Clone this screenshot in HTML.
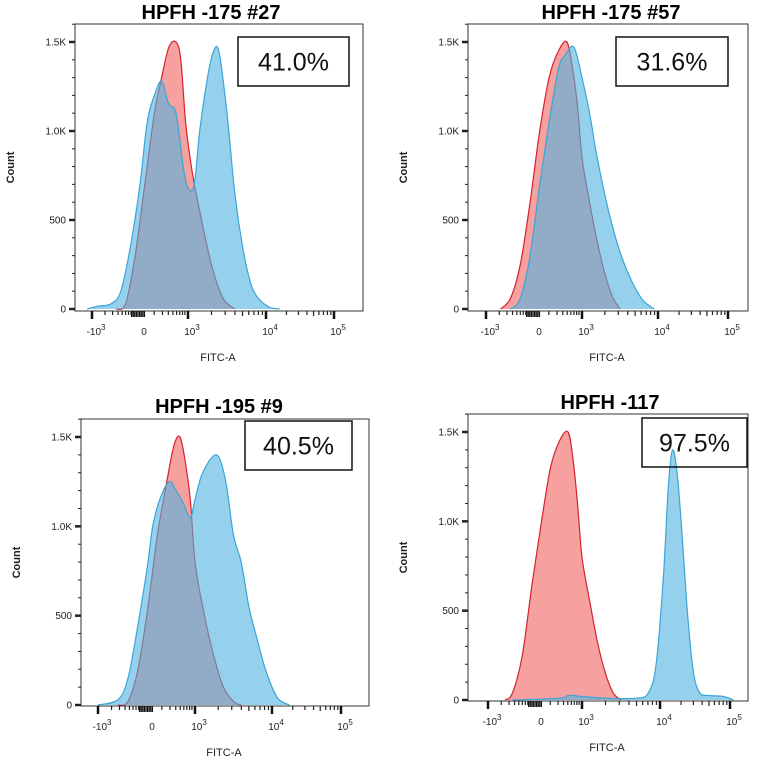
<!DOCTYPE html>
<html><head><meta charset="utf-8">
<style>
html,body{margin:0;padding:0;background:#fff;}
svg{display:block;font-family:"Liberation Sans",Arial,sans-serif;}
</style></head>
<body>
<svg id="fig" width="760" height="761" viewBox="0 0 760 761"></svg>
<script>
// ---- data (x in decade units: -1=-10^3, 0=0, 1=10^3, 2=10^4, 3=10^5; y = count) ----
const titles = ["HPFH -175 #27", "HPFH -175 #57", "HPFH -195 #9", "HPFH -117"];
const percents = ["41.0%", "31.6%", "40.5%", "97.5%"];
const yTickValues = [0, 500, 1000, 1500];
const yTickLabels = ["0", "500", "1.0K", "1.5K"];
const xTickValues = [-1, 0, 1, 2, 3];
const xTickBases = ["-10", "0", "10", "10", "10"];
const xTickExps = ["3", "", "3", "4", "5"];

const red1X = [-0.5,-0.3,-0.1,0.1,0.3,0.45,0.6,0.75,0.85,0.95,1.05,1.15,1.3,1.45,1.6];
const red1Y = [0,30,300,700,1100,1300,1470,1500,1400,1050,780,550,250,60,0];
const blue1X = [-1.1,-0.9,-0.6,-0.4,-0.2,0,0.15,0.3,0.45,0.6,0.75,0.9,1.0,1.08,1.15,1.25,1.33,1.4,1.5,1.6,1.7,1.8,1.9,2.05,2.2];
const blue1Y = [0,15,30,100,350,700,1050,1200,1280,1150,1100,800,680,700,1000,1300,1450,1440,1100,650,350,150,60,10,0];

const red2X = [-0.7,-0.5,-0.3,-0.1,0.1,0.3,0.5,0.68,0.8,0.9,1.0,1.1,1.2,1.3,1.4,1.5];
const red2Y = [0,60,250,600,1000,1300,1450,1500,1350,1150,850,600,380,200,70,0];
const blue2X = [-0.5,-0.3,-0.1,0.1,0.3,0.5,0.65,0.83,1.0,1.1,1.2,1.35,1.5,1.65,1.8,1.95];
const blue2Y = [0,60,300,700,1050,1350,1430,1470,1300,1100,850,550,320,160,50,0];

const red3X = [-0.6,-0.4,-0.2,0,0.2,0.4,0.55,0.68,0.8,0.9,1.0,1.1,1.2,1.35,1.5,1.6];
const red3Y = [0,20,200,550,950,1250,1450,1500,1350,1150,800,550,350,120,20,0];
const blue3X = [-1,-0.6,-0.4,-0.2,0,0.1,0.25,0.45,0.6,0.75,0.9,1.0,1.1,1.28,1.4,1.5,1.6,1.7,1.8,1.9,2.0,2.1,2.25];
const blue3Y = [0,30,150,450,800,1000,1150,1250,1200,1130,1050,1150,1300,1400,1250,950,800,550,380,220,100,30,0];

const red4X = [-0.65,-0.5,-0.3,-0.1,0.1,0.3,0.5,0.69,0.8,0.9,1.0,1.1,1.2,1.3,1.4,1.5];
const red4Y = [0,40,250,650,1000,1300,1450,1500,1350,1100,800,550,320,150,40,0];
const blue4X = [-0.5,0.5,0.7,1.0,1.3,1.7,1.85,1.95,2.05,2.12,2.18,2.25,2.32,2.4,2.48,2.57,2.7,2.9,3.05];
const blue4Y = [0,10,25,20,10,10,40,200,700,1200,1400,1250,900,450,150,40,25,20,0];

const redXs = [red1X, red2X, red3X, red4X];
const redYs = [red1Y, red2Y, red3Y, red4Y];
const blueXs = [blue1X, blue2X, blue3X, blue4X];
const blueYs = [blue1Y, blue2Y, blue3Y, blue4Y];

// ---- layout ----
const panels = [
  {fx0:75, fx1:363, fy0:24, fy1:311, y0:309, y15:42, xp:[92,140,188,266,334], tx:211, ty:19, box:[238,37,111,49], cx:10},
  {fx0:468, fx1:748, fy0:24, fy1:311, y0:309, y15:42, xp:[486,535,582,658,728], tx:611, ty:19, box:[616,37,112,49], cx:403},
  {fx0:81, fx1:369, fy0:419, fy1:706, y0:705, y15:437, xp:[98,148,195,272,341], tx:219, ty:413, box:[245,421,107,49], cx:16},
  {fx0:468, fx1:748, fy0:414, fy1:701, y0:700, y15:432, xp:[488,537,582,660,730], tx:610, ty:409, box:[642,418,105,49], cx:403}
];
const NS = "http://www.w3.org/2000/svg";
const svg = document.getElementById('fig');
function mk(tag, attrs, parent){const e=document.createElementNS(NS,tag);for(const k in attrs)e.setAttribute(k,attrs[k]);(parent||svg).appendChild(e);return e;}

function smoothPath(pts){
  let d = 'M' + pts[0][0].toFixed(1) + ',' + pts[0][1].toFixed(1);
  for (let j=0;j<pts.length-1;j++){
    const p0 = pts[Math.max(0,j-1)], p1 = pts[j], p2 = pts[j+1], p3 = pts[Math.min(pts.length-1,j+2)];
    const c1x = p1[0] + (p2[0]-p0[0])/6, c1y = p1[1] + (p2[1]-p0[1])/6;
    const c2x = p2[0] - (p3[0]-p1[0])/6, c2y = p2[1] - (p3[1]-p1[1])/6;
    d += ' C' + c1x.toFixed(1)+','+c1y.toFixed(1)+' '+c2x.toFixed(1)+','+c2y.toFixed(1)+' '+p2[0].toFixed(1)+','+p2[1].toFixed(1);
  }
  return d;
}

panels.forEach((p, i) => {
  const g = mk('g', {});
  
  
  const xs = u => {
    let k = Math.floor(u + 1); k = Math.max(0, Math.min(3, k));
    const a = p.xp[k], b = p.xp[k+1];
    return a + (u - (k - 1)) * (b - a);
  };
  const ys = c => p.y0 - c * (p.y0 - p.y15) / 1500;

  const t = mk('text', {x:p.tx, y:p.ty, 'text-anchor':'middle', 'font-size':20, 'font-weight':'bold', fill:'#000'}, g);
  t.textContent = titles[i];
  
  

  const fr = mk('rect', {x:p.fx0, y:p.fy0, width:p.fx1-p.fx0, height:p.fy1-p.fy0, fill:'none', stroke:'#333', 'stroke-width':1}, g);
  
  

  function area(X, Y, fill, stroke, op, name){
    const pts = X.map((x, j) => [xs(x), Math.min(ys(0), ys(Y[j]))]);
    const line = smoothPath(pts);
    const d = line + ' L' + pts[pts.length-1][0].toFixed(1) + ',' + ys(0).toFixed(1) + ' L' + pts[0][0].toFixed(1) + ',' + ys(0).toFixed(1) + ' Z';
    const f = mk('path', {d:d, fill:fill, 'fill-opacity':op, stroke:'none'}, g);
    
    
    const l = mk('path', {d:line, fill:'none', stroke:stroke, 'stroke-width':1.2, 'stroke-linejoin':'round'}, g);
    
    
  }
  area(redXs[i], redYs[i], '#f7a0a0', '#d2232a', 1, 'control-histogram');
  area(blueXs[i], blueYs[i], '#4fb3df', '#3aa6d6', 0.6, 'sample-histogram');

  for (let c=0;c<=1600;c+=100){
    const y = ys(c); if (y < p.fy0) break;
    const major = c % 500 === 0;
    mk('line', {x1:p.fx0-(major?6:3), x2:p.fx0, y1:y, y2:y, stroke:'#222', 'stroke-width':major?2.5:1}, g);
  }
  yTickValues.forEach((v, k) => {
    const lb = mk('text', {x:p.fx0-9, y:ys(v)+3.5, 'text-anchor':'end', 'font-size':10, fill:'#222'}, g);
    lb.textContent = yTickLabels[k];
    
    
  });
  const ax = p.fy1;
  xTickValues.forEach(v => { if (v !== 0) mk('line', {x1:xs(v), x2:xs(v), y1:ax, y2:ax+8, stroke:'#111', 'stroke-width':2.5}, g); });
  for (let dec=1; dec<=2; dec++) for (let m=2;m<=9;m++){
    const u = dec + Math.log10(m); const x = xs(u);
    mk('line', {x1:x, x2:x, y1:ax, y2:ax+(m===5?5:4), stroke:'#222', 'stroke-width':1.2}, g);
  }
  for (let m=2;m<=9;m++){
    const x = xs(-1 + Math.log10(m)*0.9);
    mk('line', {x1:x, x2:x, y1:ax, y2:ax+4, stroke:'#222', 'stroke-width':1.2}, g);
    const x2 = xs(Math.log10(m)*0.98);
    mk('line', {x1:x2, x2:x2, y1:ax, y2:ax+4, stroke:'#222', 'stroke-width':1.2}, g);
  }
  for (let k=-4;k<=4;k++){ const x = xs(0) + k*1.6 - 2;
    mk('line', {x1:x, x2:x, y1:ax, y2:ax+6, stroke:'#111', 'stroke-width':1.3}, g); }
  xTickValues.forEach((v, k) => {
    const lb = mk('text', {x:xs(v)+4, y:ax+24, 'text-anchor':'middle', 'font-size':10, fill:'#222'}, g);
    
    
    const b = mk('tspan', {}, lb); b.textContent = xTickBases[k];
    if (xTickExps[k]) { const e = mk('tspan', {dy:-5, 'font-size':8}, lb); e.textContent = xTickExps[k]; }
  });
  const xt = mk('text', {x:(p.fx0+p.fx1)/2 - 1, y:ax+50, 'text-anchor':'middle', 'font-size':11, fill:'#222'}, g);
  xt.textContent = 'FITC-A';
  
  
  const cy = (p.fy0+p.fy1)/2;
  const yt = mk('text', {x:p.cx, y:cy, 'text-anchor':'middle', 'font-size':11, 'font-weight':'bold', fill:'#222', transform:'rotate(-90 '+(p.cx)+' '+cy+')', dy:4}, g);
  yt.textContent = 'Count';
  
  

  const bx = p.box;
  const br = mk('rect', {x:bx[0], y:bx[1], width:bx[2], height:bx[3], fill:i===3?'none':'#fff', stroke:'#111', 'stroke-width':1.5}, g);
  
  
  const pt = mk('text', {x:bx[0]+bx[2]/2, y:bx[1]+bx[3]/2+9, 'text-anchor':'middle', 'font-size':25, fill:'#111'}, g);
  pt.textContent = percents[i];
  
  
});
</script>
</body></html>
